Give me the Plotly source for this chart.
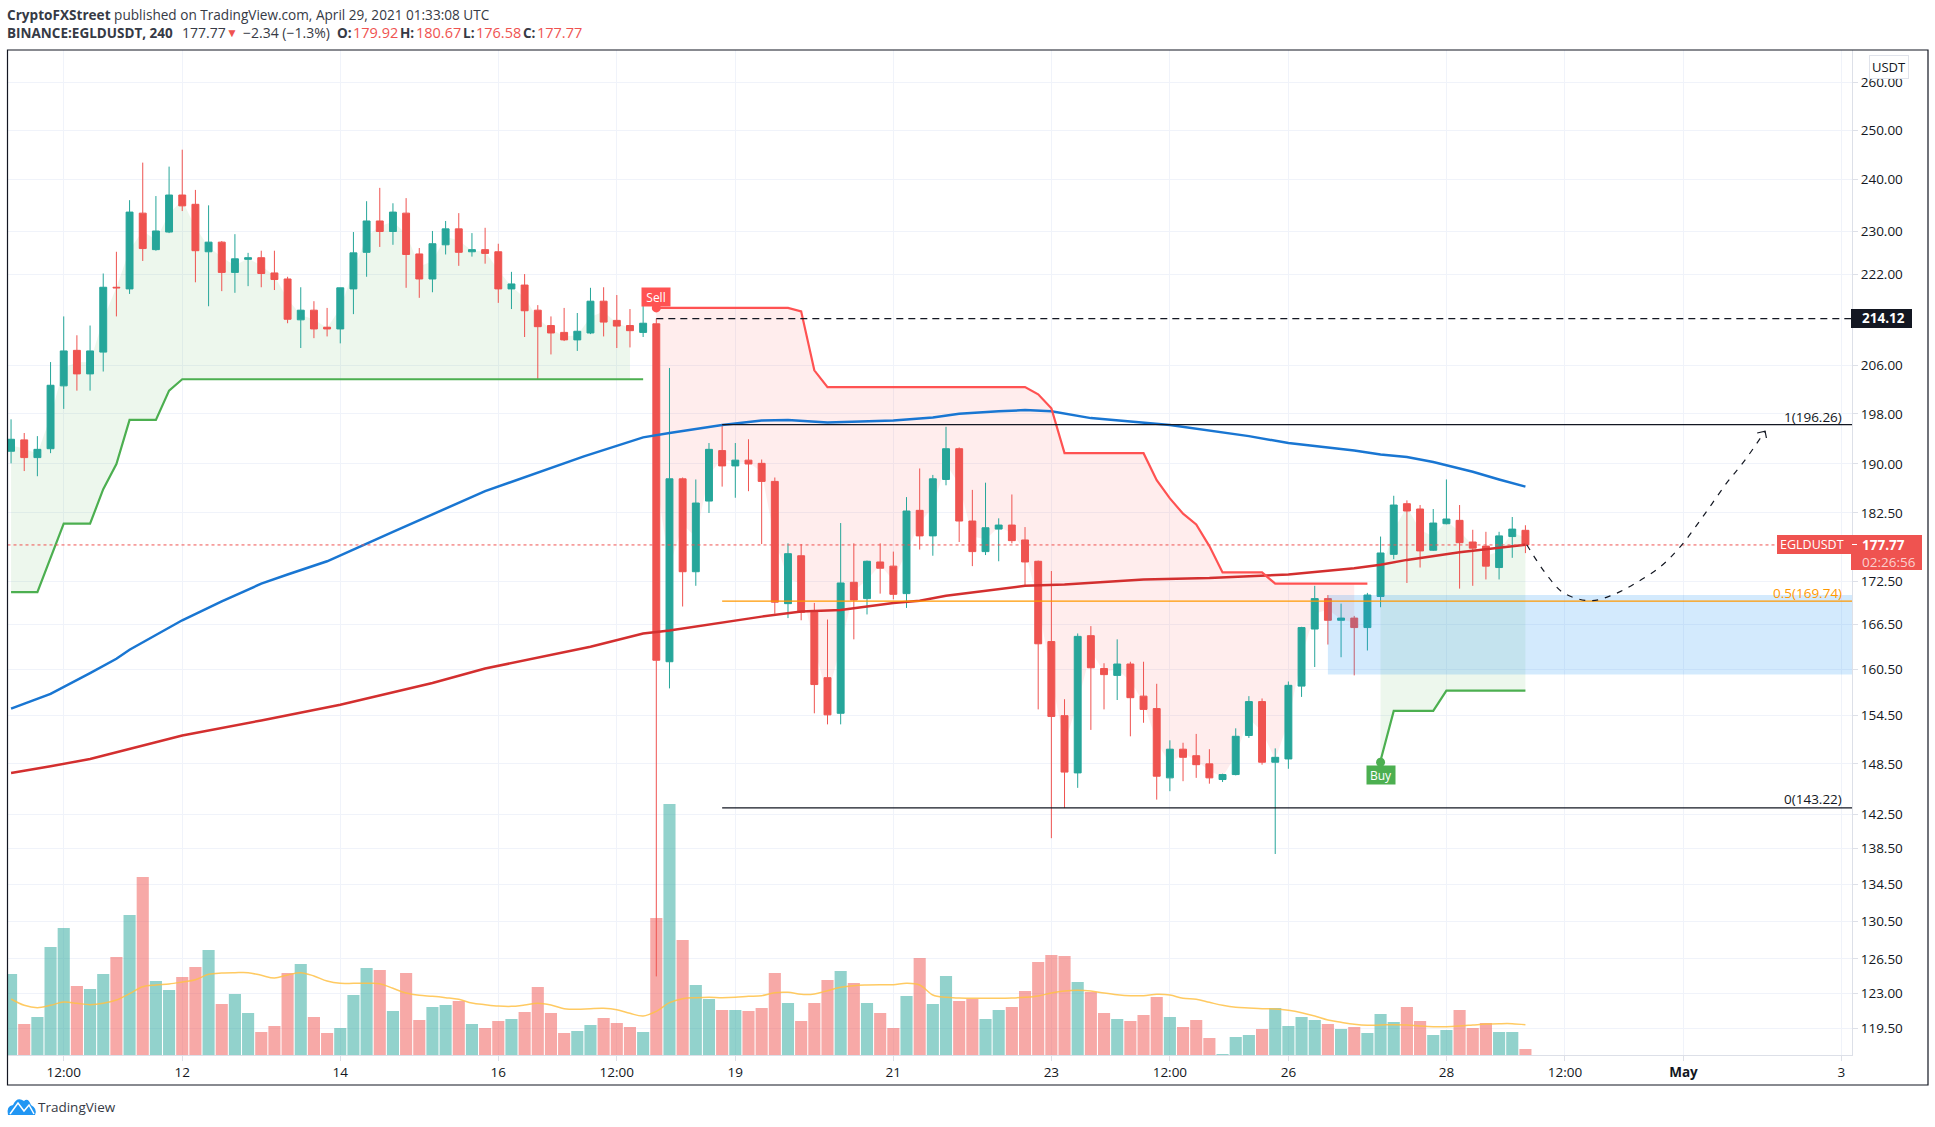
import math
import pandas as pd
import plotly.graph_objects as go

W, H = 1935, 1127
FONT = "Open Sans"

# 4h candles from Apr 9 20:00
start = pd.Timestamp("2021-04-09 20:00")

open_ = [192.0, 193.8, 191.0, 192.4, 202.6, 208.6, 204.6, 208.3, 219.7, 219.4,
         233.5, 226.6, 229.9, 237.0, 235.2, 226.2, 228.0, 222.4, 224.8, 225.1,
         222.3, 221.2, 213.9, 215.6, 212.6, 212.3, 219.4, 226.1, 232.0, 230.0,
         233.5, 225.8, 221.2, 227.5, 230.5, 226.2, 226.6, 226.2, 219.4, 220.1,
         215.6, 212.9, 211.7, 210.4, 211.6, 217.2, 213.8, 212.9, 211.7, 213.2,
         161.5, 187.7, 173.9, 184.3, 192.1, 189.7, 190.6, 190.1, 187.3, 169.4,
         176.2, 168.2, 159.4, 154.8, 172.4, 170.1, 175.3, 174.7, 170.8, 182.9,
         179.1, 187.6, 192.4, 181.3, 176.8, 180.1, 180.7, 178.5, 175.4, 164.2,
         154.5, 147.4, 165.0, 160.6, 159.7, 161.2, 157.0, 155.4, 146.8, 150.3,
         149.5, 148.5, 146.6, 147.2, 152.0, 156.3, 148.7, 149.1, 158.3, 165.9,
         170.1, 167.1, 167.4, 166.1, 170.4, 176.4, 183.9, 183.1, 177.0, 180.9,
         181.4, 178.2, 177.6, 174.5, 179.0, 179.92]
high = [197.1, 194.9, 194.4, 206.6, 214.5, 211.2, 212.9, 222.2, 226.2, 236.0,
        243.4, 236.8, 242.6, 246.0, 238.0, 235.0, 228.2, 229.5, 226.0, 226.4,
        226.4, 221.6, 219.7, 217.2, 216.0, 219.6, 229.9, 235.8, 238.4, 235.4,
        236.4, 226.9, 230.1, 232.0, 233.5, 229.7, 230.7, 227.7, 222.5, 222.1,
        216.5, 214.5, 216.0, 215.1, 219.6, 219.7, 218.3, 215.8, 218.0, 214.12,
        205.6, 187.9, 187.6, 193.3, 196.2, 193.3, 193.9, 190.7, 187.9, 178.0,
        177.9, 169.5, 167.2, 181.0, 178.0, 175.5, 178.0, 176.8, 184.9, 189.3,
        188.3, 195.9, 192.6, 186.0, 187.1, 181.7, 185.3, 180.4, 175.5, 174.0,
        156.6, 165.3, 166.3, 161.3, 164.5, 161.5, 161.5, 158.6, 151.4, 151.1,
        152.2, 150.3, 147.3, 152.9, 157.0, 156.7, 150.4, 158.9, 166.2, 171.9,
        170.6, 169.4, 167.7, 170.9, 179.0, 185.1, 184.4, 183.7, 183.1, 187.6,
        183.7, 180.0, 179.7, 179.7, 181.9, 180.67]
low = [190.1, 188.9, 188.1, 191.7, 198.8, 201.8, 201.8, 205.0, 214.5, 218.5,
       224.5, 226.4, 229.7, 233.9, 220.6, 216.3, 219.0, 218.7, 219.9, 219.7,
       219.2, 213.3, 209.0, 210.7, 211.0, 209.8, 214.9, 221.6, 227.1, 227.5,
       219.6, 217.8, 218.8, 225.7, 223.6, 225.3, 224.0, 216.9, 215.8, 210.9,
       203.7, 207.9, 210.2, 208.5, 211.4, 211.0, 209.0, 209.1, 210.9, 124.7,
       158.0, 169.0, 171.9, 182.5, 186.5, 184.8, 185.8, 177.9, 168.0, 167.4,
       167.1, 154.8, 153.4, 153.4, 164.5, 167.9, 170.8, 170.0, 168.8, 177.1,
       176.2, 186.7, 178.2, 174.7, 176.3, 175.4, 178.0, 171.9, 155.3, 139.7,
       143.2, 145.6, 152.7, 155.3, 156.5, 151.9, 153.6, 144.2, 145.2, 146.4,
       146.8, 146.1, 146.3, 147.1, 151.7, 148.4, 137.9, 147.9, 156.9, 160.8,
       163.8, 162.1, 159.7, 163.0, 168.9, 175.7, 172.3, 174.5, 176.9, 180.8,
       171.5, 171.9, 172.8, 172.8, 175.9, 176.58]
close = [193.9, 191.0, 192.3, 202.7, 208.5, 204.6, 208.5, 219.7, 219.6, 233.7,
         226.8, 230.1, 237.0, 234.9, 226.4, 228.0, 222.4, 224.9, 225.1, 222.2,
         221.1, 214.0, 215.6, 212.3, 212.3, 219.6, 226.0, 232.0, 230.0, 233.7,
         225.7, 221.2, 227.7, 230.5, 226.1, 226.6, 225.9, 219.4, 220.3, 215.5,
         212.7, 211.6, 210.4, 211.9, 217.2, 213.5, 212.8, 212.0, 213.3, 161.7,
         187.7, 173.9, 184.0, 192.3, 189.7, 190.6, 190.0, 187.3, 169.6, 176.5,
         168.2, 158.5, 154.6, 172.3, 169.9, 175.4, 174.4, 170.7, 182.8, 179.1,
         187.7, 192.4, 181.3, 176.8, 180.3, 180.7, 178.4, 175.3, 163.9, 154.4,
         147.5, 164.9, 160.7, 159.8, 161.2, 156.8, 155.3, 147.0, 150.3, 149.3,
         148.4, 146.8, 147.2, 151.9, 156.3, 148.7, 149.3, 158.4, 166.1, 170.1,
         167.1, 167.4, 166.1, 170.6, 176.6, 183.7, 182.8, 176.9, 181.0, 181.6,
         178.1, 177.3, 174.7, 179.1, 180.1, 177.77]

volume = [243, 93, 114, 324, 381, 207, 198, 243, 294, 420, 534, 222, 195, 234, 264, 315,
          153, 183, 126, 69, 87, 246, 273, 114, 66, 81, 180, 261, 255, 132, 246, 105,
          144, 150, 162, 93, 81, 102, 108, 129, 204, 126, 66, 72, 90, 111, 96, 84, 69,
          411, 753, 345, 210, 168, 135, 135, 132, 141, 246, 156, 102, 156, 225, 252, 216,
          156, 126, 81, 177, 291, 153, 237, 162, 168, 108, 135, 144, 192, 279, 300, 297,
          219, 189, 126, 108, 102, 120, 174, 114, 84, 105, 51, 3, 54, 60, 78, 141, 87,
          114, 105, 93, 78, 84, 66, 123, 99, 144, 102, 60, 75, 135, 81, 96, 69, 69, 18]
volume_ma = [168, 149, 142, 149, 159, 155, 151, 155, 165, 184, 205, 210, 213, 219, 226, 242,
             246, 247, 247, 239, 231, 240, 247, 237, 222, 215, 215, 215, 214, 200, 186, 179,
             176, 172, 167, 156, 151, 147, 146, 150, 155, 150, 139, 137, 139, 140, 136, 125,
             117, 131, 157, 169, 172, 173, 172, 173, 176, 178, 187, 188, 182, 183, 193, 203,
             208, 210, 211, 211, 215, 210, 180, 173, 171, 170, 170, 170, 171, 173, 177, 186,
             192, 194, 192, 186, 181, 178, 178, 182, 180, 170, 167, 158, 149, 143, 141, 139,
             138, 134, 127, 117, 105, 98, 92, 89, 90, 91, 90, 87, 85, 85, 87, 90, 93, 94, 94, 91]

blue_bar = [0, 3, 6, 8, 9, 13, 16, 19, 21, 24, 29, 36, 43.5, 46, 48, 50, 54, 57, 59, 62, 67,
            70, 72, 75, 77, 79, 82, 88, 92, 94, 97, 102, 104, 106, 108, 111, 113, 115]
blue_ma = [155.4, 157.3, 160.0, 161.9, 163.1, 167.1, 169.7, 172.2, 173.5, 175.4, 179.7, 185.8,
           191.2, 192.9, 194.2, 194.9, 196.2, 196.9, 197.0, 196.6, 196.9, 197.4, 198.0, 198.4,
           198.6, 198.4, 197.3, 196.2, 195.0, 194.4, 193.3, 192.1, 191.5, 191.1, 190.3, 188.8,
           187.6, 186.5]
red_bar = [0, 3, 6, 8, 13, 19, 25, 32, 36, 44, 48, 50, 54, 57, 60, 63, 67, 69, 71, 75, 77, 80,
           86, 91, 94, 97, 102, 104, 106, 110, 115]
red_ma = [147.4, 148.2, 149.1, 149.9, 152.0, 153.9, 155.9, 158.7, 160.6, 163.5, 165.3, 165.7,
          166.8, 167.6, 168.3, 168.5, 169.5, 169.8, 170.5, 171.4, 171.9, 172.1, 172.8, 173.0,
          173.3, 173.5, 174.4, 174.9, 175.6, 176.7, 177.8]

# supertrend segments
up1_bar = [0, 2, 4, 6, 7, 8, 9, 11, 12, 13, 48]
up1 = [171.0, 171.0, 180.9, 180.9, 186.1, 190.0, 197.0, 197.0, 201.8, 203.7, 203.7]
down_bar = [49, 59, 60, 61, 62, 77, 78, 79, 80, 86, 87, 88, 89, 90, 91, 92, 95, 96, 103]
down = [216.0, 216.0, 215.4, 205.2, 202.4, 202.4, 201.2, 198.9, 191.7, 191.7, 187.5, 184.7,
        182.4, 180.8, 177.6, 173.8, 173.8, 172.2, 172.2]
up2_bar = [104, 105, 108, 109, 115]
up2 = [148.9, 155.1, 155.1, 157.7, 157.7]

# hand drawn forecast path
path_bar = [115.1, 116.6, 117.9, 119.9, 121.6, 123.3, 125.3, 126.8, 128.6, 130.3, 131.6, 133.2]
path_price = [177.8, 173.5, 170.9, 169.8, 170.6, 172.2, 174.7, 177.6, 182.3, 187.1, 190.4, 195.2]
head_bar = [132.6, 133.2, 133.3]
head_price = [194.9, 195.2, 194.1]

y_ticks = [260, 250, 240, 230, 222, 206, 198, 190, 182.5, 172.5, 166.5, 160.5, 154.5,
           148.5, 142.5, 138.5, 134.5, 130.5, 126.5, 123, 119.5]
x_tick_bars = [4, 13, 25, 37, 46, 55, 67, 79, 88, 97, 109, 118, 127, 139]
x_tick_text = ["12:00", "12", "14", "16", "12:00", "19", "21", "23", "12:00", "26", "28",
               "12:00", "<b>May</b>", "3"]

last_price = 177.77
swing_high = 214.12
fib_levels = [196.26, 169.74, 143.22]
zone_top, zone_bottom = 170.6, 159.8
price_range = (116.9, 267.0)
left_bar, right_bar = -0.27, 139.8


def t(i):
    return start + pd.Timedelta(hours=4 * i)


def ts(bars):
    return [t(i) for i in bars]


def px(x):
    return x / W


def py(y):
    return 1 - y / H


TEAL, RED = "#26a69a", "#ef5350"
bars = list(range(len(open_)))
mid = [(o + c) / 2 for o, c in zip(open_, close)]
vol_colors = ["rgba(38,166,154,0.5)" if c >= o else "rgba(239,83,80,0.5)" for o, c in zip(open_, close)]

fig = go.Figure()

# volume pane sits at the bottom of the stack
fig.add_trace(go.Bar(x=ts(bars), y=volume, marker=dict(color=vol_colors, line_width=0), yaxis="y"))
fig.add_trace(go.Scatter(x=ts(bars), y=volume_ma, mode="lines", yaxis="y",
                         line=dict(color="rgba(255,193,70,0.85)", width=1.5, shape="spline")))

# supertrend shading, under the candles
GREEN_FILL, RED_FILL = "rgba(76,175,80,0.1)", "rgba(255,82,82,0.1)"
for seg_x, seg_y, from_bar, to_bar, fill in [
    (up1_bar[:-1] + [47], up1[:-1] + [203.7], 0, 47, GREEN_FILL),
    (down_bar[:-1] + [102], down[:-1] + [172.2], 49, 102, RED_FILL),
    (up2_bar, up2, 104, 115, GREEN_FILL),
]:
    fig.add_trace(go.Scatter(x=ts(seg_x), y=seg_y, mode="lines", line_width=0, yaxis="y2"))
    span = list(range(from_bar, to_bar + 1))
    fig.add_trace(go.Scatter(x=ts(span), y=mid[from_bar:to_bar + 1], mode="lines", line_width=0,
                             fill="tonexty", fillcolor=fill, yaxis="y2"))

fig.add_trace(go.Candlestick(x=ts(bars), open=open_, high=high, low=low, close=close, yaxis="y3",
                             increasing=dict(line=dict(color=TEAL, width=1), fillcolor=TEAL),
                             decreasing=dict(line=dict(color=RED, width=1), fillcolor=RED),
                             whiskerwidth=0))


def price_line(x, y, color, width, dash="solid", shape="linear"):
    fig.add_trace(go.Scatter(x=ts(x), y=y, mode="lines", yaxis="y3",
                             line=dict(color=color, width=width, dash=dash, shape=shape)))


# buy zone
fig.add_trace(go.Scatter(x=ts([100, right_bar, right_bar, 100, 100]),
                         y=[zone_top, zone_top, zone_bottom, zone_bottom, zone_top],
                         mode="lines", line_width=0, fill="toself",
                         fillcolor="rgba(33,150,243,0.2)", yaxis="y3"))

price_line(blue_bar, blue_ma, "#1976d2", 2.5)
price_line(red_bar, red_ma, "#d32f2f", 2.5)
price_line(up1_bar, up1, "#4caf50", 2.2)
price_line(up2_bar, up2, "#4caf50", 2.2)
price_line(down_bar, down, "#ff5252", 2.2)

price_line([left_bar, right_bar], [last_price, last_price], RED, 1, dash="dot")
price_line([49, right_bar], [swing_high, swing_high], "#131722", 1.2, dash="7px,5px")
price_line([54, right_bar], [fib_levels[0], fib_levels[0]], "#131722", 1.2)
price_line([54, right_bar], [fib_levels[1], fib_levels[1]], "#ff9800", 1.2)
price_line([54, right_bar], [fib_levels[2], fib_levels[2]], "#131722", 1.2)
price_line(path_bar, path_price, "#131722", 1.2, dash="6px,7px", shape="spline")
price_line(head_bar, head_price, "#131722", 1.2)

# sell / buy dots
fig.add_trace(go.Scatter(x=ts([49]), y=[216.0], mode="markers", yaxis="y3",
                         marker=dict(color="#ff5252", size=9)))
fig.add_trace(go.Scatter(x=ts([104]), y=[148.7], mode="markers", yaxis="y3",
                         marker=dict(color="#4caf50", size=9)))

annotations = []


def note(x, y, text, size=13.5, color="#131722", anchor="left", **kw):
    annotations.append(dict(xref="paper", yref="paper", x=px(x), y=py(y), text=text, showarrow=False,
                            xanchor=anchor, yanchor="middle",
                            font=dict(family=FONT, size=size, color=color), **kw))


HEAD = "#363a45"
note(5, 14, "<b>CryptoFXStreet</b> published on TradingView.com, April 29, 2021 01:33:08 UTC",
     size=13.6, color=HEAD)
for x, text, color, size in [
    (5, "<b>BINANCE:EGLDUSDT, 240</b>", HEAD, 13.5),
    (179.5, "177.77", HEAD, 14),
    (224, "▼", RED, 12),
    (240.5, "−2.34 (−1.3%)", HEAD, 14),
    (334.5, "<b>O:</b>", HEAD, 13.5),
    (350.5, "179.92", RED, 14.5),
    (398, "<b>H:</b>", HEAD, 13.5),
    (413.5, "180.67", RED, 14.5),
    (460.5, "<b>L:</b>", HEAD, 13.5),
    (473.5, "176.58", RED, 14.5),
    (521, "<b>C:</b>", HEAD, 13.5),
    (534.5, "177.77", RED, 14.5),
]:
    note(x, 33, text, size=size, color=color)

note(1844, 416.5, "1(196.26)", anchor="right")
note(1844, 593, "0.5(169.74)", anchor="right", color="#ff9800")
note(1844, 798.5, "0(143.22)", anchor="right")

note(1889, 67, "USDT", size=13, anchor="center", bgcolor="white", bordercolor="#e0e3eb",
     borderwidth=1, borderpad=2)

note(1860, 318.5, "<b>214.12</b>", color="white")
note(1778, 544.5, "EGLDUSDT", size=12.5, color="white")
note(1860, 544.5, "<b>177.77</b>", color="white")
note(1860, 562, "02:26:56", color="#fbd0cf")
note(35.5, 1107, "TradingView", size=13.5, color=HEAD)

for bar, price, label, color in [(49, 217.9, "Sell", "#ff5252"), (104, 147.2, "Buy", "#4caf50")]:
    annotations.append(dict(xref="x", yref="y3", x=t(bar), y=math.log10(price), text=label,
                            showarrow=False, width=28, height=18, bgcolor=color, borderpad=0,
                            font=dict(family=FONT, size=12, color="white")))

shapes = [
    # chart frame
    dict(type="rect", xref="paper", yref="paper", x0=px(7.5), x1=px(1928), y0=py(1085), y1=py(50),
         line=dict(color="#131722", width=1.2), layer="above"),
    # axis labels boxes
    dict(type="rect", xref="paper", yref="paper", x0=px(1851), x1=px(1912), y0=py(328), y1=py(309),
         fillcolor="#131722", line_width=0),
    dict(type="rect", xref="paper", yref="paper", x0=px(1777), x1=px(1922), y0=py(554), y1=py(535),
         fillcolor=RED, line_width=0),
    dict(type="rect", xref="paper", yref="paper", x0=px(1851), x1=px(1922), y0=py(570), y1=py(554),
         fillcolor=RED, line_width=0),
    dict(type="line", xref="paper", yref="paper", x0=px(1852), x1=px(1857), y0=py(544.5), y1=py(544.5),
         line=dict(color="white", width=1)),
]

# logo cloud
cloud = [("M", 8, 1115), ("Q", 6, 1106, 13, 1105), ("Q", 17, 1096, 24, 1101), ("Q", 28, 1097, 31, 1105),
         ("Q", 38, 1109, 35, 1115)]
path = ""
for seg in cloud:
    coords = seg[1:]
    path += seg[0] + " " + " ".join(
        f"{px(coords[k]):.5f},{py(coords[k + 1]):.5f}" for k in range(0, len(coords), 2)) + " "
shapes.append(dict(type="path", xref="paper", yref="paper", path=path + "Z",
                   fillcolor="#2196f3", line_width=0))
shapes.append(dict(type="path", xref="paper", yref="paper",
                   path=f"M {px(10):.5f},{py(1114):.5f} L {px(18):.5f},{py(1103):.5f} "
                        f"L {px(24):.5f},{py(1111):.5f} L {px(29):.5f},{py(1105):.5f} "
                        f"L {px(34):.5f},{py(1114):.5f}",
                   line=dict(color="white", width=1.5)))

GRID = "#f0f3fa"
AXIS_LINE = "#dde0e8"
fig.update_layout(
    width=W, height=H, autosize=False, showlegend=False,
    margin=dict(l=0, r=0, t=0, b=0),
    paper_bgcolor="white", plot_bgcolor="white",
    bargap=0.08, boxgap=0.25,
    annotations=annotations, shapes=shapes,
    xaxis=dict(type="date", domain=[px(7.5), px(1852)], range=[t(left_bar), t(right_bar)],
               tickvals=ts(x_tick_bars), ticktext=x_tick_text, tickangle=0,
               showgrid=True, gridcolor=GRID, gridwidth=1, zeroline=False,
               showline=True, linecolor=AXIS_LINE, ticks="outside", ticklen=5, tickcolor=AXIS_LINE,
               tickfont=dict(family=FONT, size=13.5, color="#131722"), rangeslider=dict(visible=False),
               anchor="y"),
    yaxis=dict(domain=[py(1055), py(50)], range=[0, 3015], visible=False, fixedrange=True),
    yaxis2=dict(overlaying="y", type="log", anchor="x", visible=False,
                range=[math.log10(price_range[0]), math.log10(price_range[1])]),
    yaxis3=dict(overlaying="y", type="log", side="right", anchor="x",
                range=[math.log10(price_range[0]), math.log10(price_range[1])],
                tickmode="array", tickvals=y_ticks, ticktext=[f"{v:.2f}" for v in y_ticks],
                showgrid=True, gridcolor=GRID, gridwidth=1, zeroline=False,
                showline=True, linecolor=AXIS_LINE, ticks="outside", ticklen=5, tickcolor=AXIS_LINE,
                tickfont=dict(family=FONT, size=13.5, color="#131722")),
)

fig.write_html("out.html", config={"displayModeBar": False},
               post_script="document.body.style.margin='0';")
